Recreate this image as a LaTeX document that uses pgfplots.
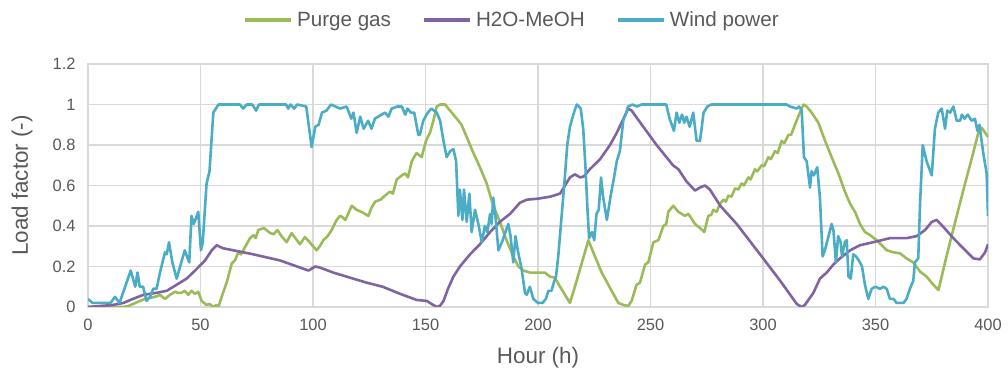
\documentclass[border=0pt]{standalone}
\usepackage{pgfplots}
\pgfplotsset{compat=1.18}
\usepackage{fontspec}
\setmainfont{Liberation Sans}
\definecolor{cgreen}{HTML}{9BBB59}
\definecolor{cpurple}{HTML}{8064A2}
\definecolor{cblue}{HTML}{4BACC6}
\definecolor{ctext}{HTML}{595959}
\definecolor{cgrid}{HTML}{D9D9D9}
\begin{document}
\begin{tikzpicture}
\useasboundingbox (0,0) rectangle (1008bp,381bp);
\begin{axis}[
  at={(88bp,74bp)}, anchor=south west,
  scale only axis, width=900bp, height=243bp,
  xmin=0, xmax=400, ymin=0, ymax=1.2,
  xtick={0,50,100,150,200,250,300,350,400},
  ytick={0,0.2,0.4,0.6,0.8,1,1.2},
  yticklabels={0,0.2,0.4,0.6,0.8,1,1.2},
  /pgf/number format/assume math mode=true,
  grid=major,
  major grid style={cgrid, line width=1.1pt},
  axis line style={cgrid, line width=1.1pt},
  major tick length=0pt,
  tick label style={font=\fontsize{16.5}{16.5}\selectfont, text=ctext},
  xticklabel style={yshift=-9bp},
  yticklabel style={xshift=-9bp},
  xlabel={Hour (h)}, ylabel={Load factor (-)},
  label style={font=\fontsize{22.5}{22.5}\selectfont, text=ctext},
  xlabel style={at={(axis description cs:0.5,-0.21)}, anchor=center},
  ylabel style={at={(axis description cs:-0.0733,0.5)}, anchor=center},
  legend columns=3,
  legend style={draw=none, fill=none, at={(axis description cs:0.471,1.18)}, anchor=center,
    font=\fontsize{20.7}{20.7}\selectfont, text=ctext,
    /tikz/every odd column/.append style={column sep=2bp},
    /tikz/every even column/.append style={column sep=29bp}},
  legend image code/.code={\draw[#1, line width=4pt] (0bp,0bp) -- (46bp,0bp);},
  every axis plot/.append style={line width=2.6pt, line join=round},
]
\addplot[cgreen, mark=none] coordinates {
(0,0.0)(15.7,0.0)(18,0.005)(21,0.02)(25.3,0.04)(29.8,0.05)(32,0.06)(34.2,0.04)(36.4,0.06)(38.7,0.075)(40,0.07)(41.6,0.07)(43,0.08)(44.6,0.06)(46,0.08)(47.5,0.065)(49,0.075)(50.5,0.03)(52.7,0.01)(54,0.015)(55.7,0.0)(57,0.01)(58,0.0)(59.4,0.05)(61.6,0.12)(63.9,0.215)(65.3,0.23)(66.8,0.27)(68,0.26)(70.5,0.31)(72,0.34)(73.6,0.355)(74.5,0.34)(75.7,0.38)(78.2,0.39)(81,0.365)(82.5,0.36)(84.2,0.38)(86,0.35)(88.3,0.32)(90.5,0.365)(92.5,0.335)(94.2,0.31)(96.4,0.345)(98.5,0.32)(101.6,0.28)(103,0.30)(104.6,0.33)(106.5,0.35)(108.3,0.38)(110.5,0.43)(112,0.45)(113,0.445)(114.4,0.43)(117.2,0.50)(119.4,0.48)(121.5,0.47)(124.6,0.45)(126,0.49)(127.6,0.52)(130,0.53)(132,0.55)(134.2,0.57)(135.5,0.56)(137.2,0.63)(139.5,0.65)(141,0.66)(142.2,0.64)(143.9,0.72)(146,0.76)(148.3,0.74)(150.2,0.82)(152,0.86)(153.5,0.92)(155,0.99)(156.5,1.0)(158.7,1.0)(160.9,0.97)(163.9,0.93)(166,0.90)(168.3,0.84)(171.3,0.76)(174.2,0.69)(177.2,0.61)(180.1,0.50)(183.1,0.42)(186,0.33)(189,0.25)(191.3,0.20)(193.5,0.18)(196.4,0.17)(203,0.17)(205.3,0.15)(207.5,0.145)(209.8,0.10)(212,0.06)(214.2,0.02)(216.4,0.10)(219.4,0.215)(222.4,0.33)(225.3,0.25)(228.3,0.17)(229.8,0.14)(232.7,0.08)(235.7,0.02)(238,0.01)(240.1,0.005)(241.6,0.03)(243.8,0.11)(245.3,0.12)(247.6,0.21)(249,0.22)(251.3,0.32)(253.5,0.33)(255.7,0.40)(257,0.41)(257.9,0.47)(260.1,0.50)(262.4,0.47)(265.3,0.45)(266.8,0.46)(269.8,0.41)(272,0.39)(273.9,0.37)(275.7,0.45)(277,0.455)(277.9,0.48)(279.4,0.47)(280.9,0.51)(282.4,0.53)(283.5,0.52)(284.6,0.55)(286,0.545)(287.6,0.586)(289,0.58)(290.5,0.61)(291.5,0.60)(293.5,0.64)(294.5,0.63)(296.4,0.68)(297.5,0.67)(299.4,0.70)(300.5,0.695)(302.4,0.74)(303.5,0.73)(305.3,0.77)(306.5,0.76)(308.3,0.82)(309.5,0.81)(311.3,0.85)(312.5,0.85)(314.2,0.90)(316.4,0.96)(318,1.0)(319.4,0.99)(321.6,0.96)(324.6,0.91)(327.6,0.82)(330.5,0.74)(333.5,0.66)(336.4,0.57)(338.7,0.51)(340.9,0.47)(343.1,0.41)(345.3,0.37)(347.6,0.355)(350.5,0.33)(355,0.28)(358,0.27)(360.9,0.265)(363.8,0.24)(366.8,0.22)(369.8,0.175)(372.7,0.15)(375.7,0.11)(378,0.084)(380.9,0.22)(383.8,0.35)(386.8,0.48)(389.8,0.61)(392.7,0.73)(395.7,0.86)(397.2,0.885)(400,0.84)
};
\addlegendentry{Purge gas}
\addplot[cpurple, mark=none] coordinates {
(0,0.0)(11,0.01)(15.7,0.02)(20,0.04)(24.6,0.06)(30.5,0.07)(35,0.08)(39.4,0.11)(43.8,0.14)(47.6,0.18)(52,0.23)(55,0.28)(57.2,0.305)(60,0.29)(64.6,0.28)(73.5,0.26)(85.3,0.23)(98,0.18)(99.5,0.19)(101,0.20)(103,0.195)(109,0.17)(116.4,0.145)(123.9,0.12)(131,0.10)(138.7,0.065)(146,0.035)(150.5,0.03)(152.7,0.015)(155,0.0)(156.4,0.005)(158,0.03)(160,0.09)(162.4,0.15)(165.3,0.20)(169.8,0.26)(174.2,0.31)(178.7,0.37)(183,0.42)(187.6,0.46)(192,0.515)(195,0.53)(200,0.535)(205.5,0.545)(209.8,0.56)(212,0.60)(214.2,0.64)(216.4,0.655)(218.7,0.64)(220.4,0.645)(223,0.68)(227.6,0.73)(232,0.80)(235,0.86)(238,0.93)(240.1,0.98)(241.6,0.97)(246.8,0.89)(252.7,0.80)(260,0.70)(262.4,0.68)(266,0.62)(269.8,0.575)(272,0.59)(274.2,0.60)(276.4,0.58)(281,0.50)(288.3,0.41)(298.7,0.26)(307.6,0.13)(315,0.015)(317.2,0.0)(318.6,0.01)(322.4,0.07)(325.3,0.14)(328.3,0.17)(331.3,0.21)(334.2,0.24)(338.7,0.28)(343.1,0.305)(349,0.32)(356.4,0.34)(363.8,0.34)(368.3,0.35)(372,0.38)(375,0.42)(377.2,0.43)(380.2,0.395)(384.6,0.34)(389,0.29)(393.5,0.24)(396.4,0.235)(398.7,0.27)(400,0.31)
};
\addlegendentry{H2O-MeOH}
\addplot[cblue, mark=none] coordinates {
(0,0.04)(2,0.02)(10,0.02)(12,0.05)(14,0.02)(19,0.18)(21,0.10)(22,0.17)(23,0.10)(24.5,0.10)(26,0.03)(27.6,0.05)(29,0.09)(30.5,0.09)(32,0.17)(34.2,0.27)(35,0.26)(36,0.32)(37.5,0.22)(39.4,0.14)(43,0.28)(45,0.22)(46,0.45)(47,0.41)(49,0.47)(50.2,0.28)(51,0.32)(52.7,0.61)(54,0.67)(55.7,0.96)(58,1.0)(67.5,1.0)(69,0.98)(70.5,1.0)(73,1.0)(74.7,0.97)(76,1.0)(88,1.0)(89,0.98)(90,1.0)(91.6,0.98)(93,1.0)(97,0.99)(99.4,0.79)(101,0.89)(102.5,0.90)(104,0.96)(106,0.97)(108,1.0)(110,0.99)(112,0.98)(115,0.99)(117,0.93)(118,0.96)(119.4,0.86)(121,0.94)(122.5,0.88)(124.5,0.92)(126,0.88)(127.5,0.93)(130.5,0.95)(132,0.96)(133.5,0.94)(135,0.98)(137.5,0.99)(139.5,0.99)(141,0.95)(142,0.98)(143.5,0.96)(145,0.96)(146.8,0.85)(147.5,0.85)(149,0.92)(151,0.96)(152.6,0.98)(155,0.96)(156.5,0.92)(158,0.82)(159.4,0.74)(161,0.77)(162.4,0.78)(163.6,0.72)(164.6,0.45)(165.3,0.58)(166.4,0.43)(167.1,0.58)(168.3,0.42)(169.5,0.56)(170.5,0.37)(172,0.48)(173.5,0.41)(175,0.32)(176.4,0.40)(177.5,0.37)(178.7,0.46)(179.4,0.41)(180.1,0.54)(181,0.46)(182.4,0.28)(184,0.32)(185.5,0.37)(186.8,0.41)(187.8,0.35)(189,0.22)(190,0.35)(191,0.28)(192.7,0.19)(194.2,0.07)(195,0.06)(196.4,0.10)(197.9,0.04)(200,0.02)(202,0.02)(203.5,0.04)(204.6,0.08)(206,0.08)(207,0.12)(208,0.15)(209,0.25)(210.5,0.45)(212,0.65)(213,0.80)(214.2,0.89)(215.7,0.95)(217.2,1.0)(219,0.98)(220.1,0.88)(221.2,0.67)(222,0.48)(222.7,0.34)(224,0.37)(225,0.33)(226,0.46)(227,0.48)(228,0.64)(229,0.54)(230.6,0.43)(232.3,0.55)(233.8,0.64)(235,0.72)(236.4,0.77)(238,0.93)(239,0.95)(240,0.99)(242,1.0)(244,0.99)(246,1.0)(257,1.0)(258.5,0.93)(260.4,0.87)(261.6,0.96)(262.8,0.91)(264,0.95)(265,0.91)(266,0.94)(267.4,0.89)(269,0.96)(270.5,0.82)(272,0.82)(273.6,0.96)(275.3,0.99)(277,1.0)(310.5,1.0)(312,0.99)(315,0.98)(316,0.99)(317.2,0.97)(318.2,0.74)(319.4,0.72)(320.9,0.59)(321.6,0.67)(322.6,0.65)(324.1,0.69)(325.3,0.54)(326.5,0.25)(327.5,0.28)(329.6,0.37)(330.5,0.41)(331.3,0.38)(332.4,0.22)(333.4,0.35)(334.5,0.32)(335.1,0.25)(336.4,0.32)(337.2,0.33)(338,0.15)(339,0.14)(340.1,0.26)(341.3,0.25)(342.6,0.23)(344,0.20)(345.3,0.11)(346.8,0.04)(348.3,0.09)(350,0.10)(352,0.09)(353.5,0.10)(355,0.09)(356.4,0.04)(358,0.04)(359.4,0.02)(362.4,0.02)(363.8,0.04)(365.3,0.09)(366.8,0.13)(367.5,0.22)(369,0.24)(369.8,0.51)(371,0.80)(372.7,0.72)(375,0.65)(376.4,0.88)(377.9,0.96)(379.4,0.98)(380.9,0.88)(381.9,0.97)(383.2,0.96)(384.6,0.99)(386.1,0.92)(387.6,0.92)(388.4,0.95)(389.6,0.93)(391,0.95)(392.7,0.92)(394.2,0.93)(395.3,0.87)(396.2,0.90)(397.9,0.76)(399.4,0.66)(400,0.45)
};
\addlegendentry{Wind power}
\end{axis}
\end{tikzpicture}
\end{document}
